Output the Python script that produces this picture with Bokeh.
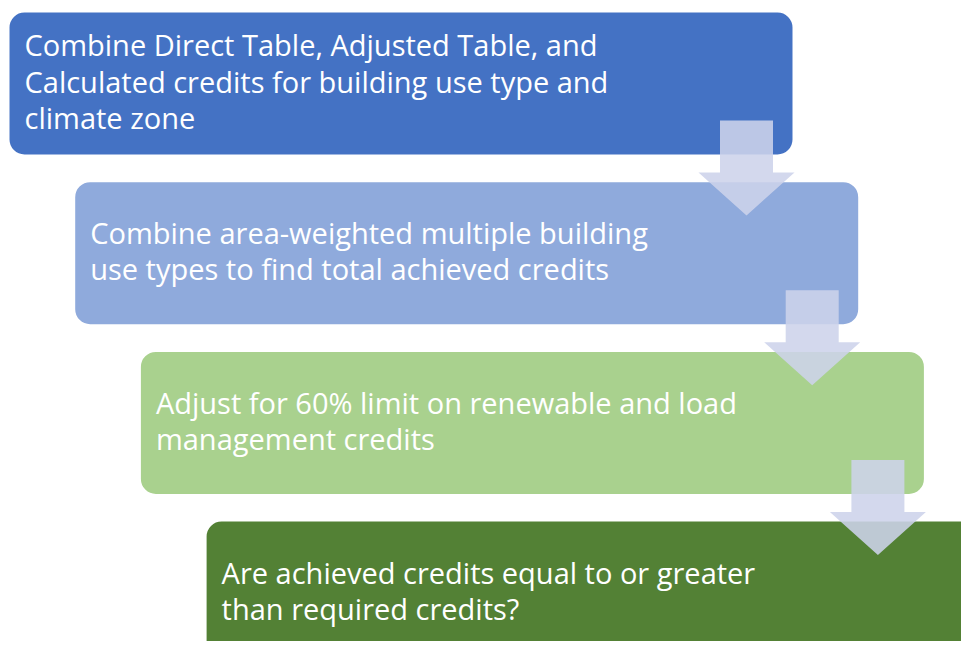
from bokeh.plotting import figure
from bokeh.models import Range1d, ColumnDataSource
from bokeh.core.properties import value
from bokeh.embed import file_html
from bokeh.resources import INLINE

# ---- data ----
steps = [
    ["Combine Direct Table, Adjusted Table, and",
     "Calculated credits for building use type and",
     "climate zone"],
    ["Combine area-weighted multiple building",
     "use types to find total achieved credits"],
    ["Adjust for 60% limit on renewable and load",
     "management credits"],
    ["Are achieved credits equal to or greater",
     "than required credits?"],
]
box_colors = ["#4472C4", "#8FAADC", "#A9D18E", "#538135"]

# ---- layout (pixel coordinates of the picture) ----
W, H = 961, 641
box_w, box_h = 783, 142
step_x, step_y = 65.7, 169.7
first_left, first_top = 9, 12
text_pad = 15
line_gap = 36.2
radius = 15

p = figure(width=W, height=H, output_backend="svg", toolbar_location=None,
           x_range=Range1d(0, W), y_range=Range1d(H, 0),
           min_border=0, background_fill_color="white")
p.axis.visible = False
p.grid.visible = False
p.outline_line_color = None

lefts = [first_left + i * step_x for i in range(len(steps))]
tops = [first_top + i * step_y for i in range(len(steps))]
rights = [l + box_w for l in lefts]
bottoms = [t + box_h for t in tops]

p.quad(left=lefts, right=rights, top=tops, bottom=bottoms,
       fill_color=box_colors, line_color=None, border_radius=radius)

# arrows between boxes
shaft_hw, head_hw = 26.5, 48
xs, ys = [], []
for i in range(len(steps) - 1):
    cx = rights[i] - 46
    y_top = bottoms[i] - 34
    y_head = bottoms[i] + 18
    y_tip = bottoms[i] + 61
    xs.append([cx - shaft_hw, cx + shaft_hw, cx + shaft_hw, cx + head_hw,
               cx, cx - head_hw, cx - shaft_hw])
    ys.append([y_top, y_top, y_head, y_head, y_tip, y_head, y_head])
p.patches(xs, ys, fill_color="#CDD3EA", fill_alpha=0.88, line_color=None)

# texts
tx, ty, tt = [], [], []
for i, lines in enumerate(steps):
    n = len(lines)
    center = tops[i] + box_h / 2
    first_base = center - 2.5 - (n - 1) / 2 * line_gap
    for j, line in enumerate(lines):
        tx.append(lefts[i] + text_pad)
        ty.append(first_base + j * line_gap)
        tt.append(line)
src = ColumnDataSource(dict(x=tx, y=ty, t=tt))
p.text(x="x", y="y", text="t", source=src, text_color="white",
       text_font=value("Open Sans"), text_font_size=value("29px"),
       text_baseline="alphabetic", text_align="left")

open("out.html", "w").write(file_html(p, INLINE))
